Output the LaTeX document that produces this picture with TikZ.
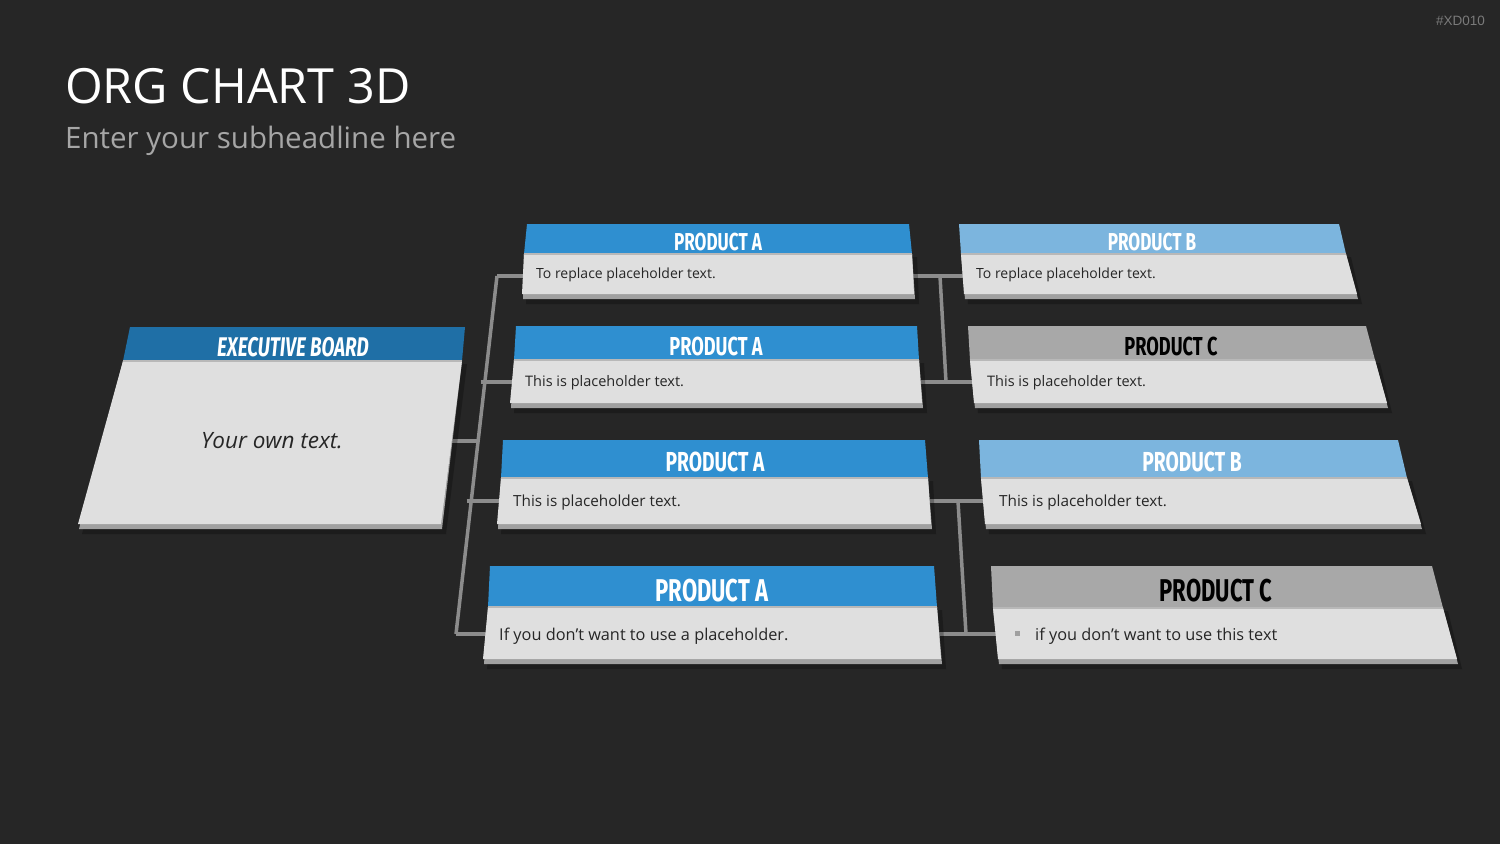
\documentclass[tikz,border=0pt]{standalone}
\usepackage{fontspec}
\setmainfont{Open Sans}
\newfontfamily\headfont[FakeStretch=0.7]{Fira Sans}
\newfontfamily\tagfont{Liberation Sans}
\usetikzlibrary{calc}
\definecolor{bgc}{HTML}{262626}
\definecolor{blueA}{HTML}{2F8FD0}
\definecolor{blueEx}{HTML}{1F6FA6}
\definecolor{blueB}{HTML}{7CB5DE}
\definecolor{greyC}{HTML}{A8A8A8}
\definecolor{bodyc}{HTML}{DFDFDF}
\definecolor{lipc}{HTML}{A0A0A0}
\definecolor{sepc}{HTML}{B8B8B8}
\definecolor{linkc}{HTML}{8C8C8C}
\definecolor{subc}{HTML}{A6A6A6}
\definecolor{tagc}{HTML}{7A7A7A}
\definecolor{txtc}{HTML}{262626}
\newcommand\apos{\char"0027\relax}
\newcommand\cardpts[7]{%
  \coordinate (#1a) at (#2); \coordinate (#1b) at (#3);
  \coordinate (#1c) at (#4); \coordinate (#1d) at (#5);
  \coordinate (#1e) at (#6); \coordinate (#1f) at (#7);}
\newcommand\cardshape[2]{%
  \fill[black,opacity=0.25] ($(#1d)+(4,3)$) -- ($(#1c)+(5,3)$) -- ($(#1e)+(5,10)$) -- ($(#1f)+(4,10)$) -- cycle;
  \fill[lipc] (#1d) -- (#1c) -- ($(#1e)+(1,5)$) -- ($(#1f)+(1,5)$) -- cycle;
  \fill[bodyc] (#1d) -- (#1c) -- (#1e) -- (#1f) -- cycle;
  \fill[#2] (#1a) -- (#1b) -- (#1c) -- (#1d) -- cycle;
  \draw[sepc,line width=1.2] (#1d) -- (#1c);}
\tikzset{
  link/.style={draw=linkc,line width=3.5},
  ttl/.style={anchor=base,inner sep=0pt},
  bodytxt/.style={anchor=base west,inner sep=0pt,text=txtc},
}
\begin{document}
\begin{tikzpicture}[x=1pt,y=-1pt]
\useasboundingbox (0,0) rectangle (1500,844);
\fill[bgc] (0,0) rectangle (1500,844);

\node[anchor=base west,inner sep=0pt,text=white,font=\fontsize{48.5}{56}\selectfont] (title) at (65,103) {ORG CHART 3D};
\node[anchor=base west,inner sep=0pt,text=subc,font=\fontsize{29.5}{36}\selectfont] (sub) at (65,148) {Enter your subheadline here};
\node[anchor=base east,inner sep=0pt,text=tagc,font=\tagfont\fontsize{13.5}{15}\selectfont] (tag) at (1485,25) {\#XD010};

% card geometry
\cardpts{EX}{130,327}{465,327}{462,361}{123,361}{441,524}{78,524}
\cardpts{A1}{527,224}{909,224}{912,254}{524,254}{914,294}{522,294}
\cardpts{A2}{516,326}{917,326}{919,360}{514,360}{922,403}{510,403}
\cardpts{A3}{503,440}{925,440}{928,478}{501,478}{931,524}{497,524}
\cardpts{A4}{490,566}{934,566}{937,607}{488,607}{941,659}{483,659}
\cardpts{B1}{959,224}{1339,224}{1346,254}{961,254}{1357,294}{964,294}
\cardpts{C2}{968,326}{1366,326}{1375,360}{970,360}{1387,403}{974,403}
\cardpts{B3}{979,440}{1398,440}{1407,478}{981,478}{1421,524}{985,524}
\cardpts{C4}{991,566}{1432,566}{1443,608}{993,608}{1457,659}{998,659}

% connector points
\coordinate (exo) at (446,441);
\coordinate (tr1) at (497,276);
\coordinate (tr2) at (484.5,382);
\coordinate (trE) at (478,441);
\coordinate (tr3) at (470.5,501);
\coordinate (tr4) at (456,634);
\coordinate (A1in) at (526,276);
\coordinate (A2in) at (514,382);
\coordinate (A3in) at (501,501);
\coordinate (A4in) at (487,634);
\coordinate (A1out) at (910,276);
\coordinate (A2out) at (918,382);
\coordinate (A3out) at (927,501);
\coordinate (A4out) at (937,634);
\coordinate (B1in) at (966,276);
\coordinate (C2in) at (976,382);
\coordinate (B3in) at (987,501);
\coordinate (C4in) at (1000,634);
\coordinate (ru1) at (940,276);
\coordinate (ru2) at (946,382);
\coordinate (rl1) at (958,501);
\coordinate (rl2) at (966,634);

% connectors
\draw[link] (exo) -- (trE);
\draw[link] (tr1) -- (tr4);
\draw[link] (tr1) -- (A1in);
\draw[link] ($(tr2)+(-4,0)$) -- (A2in);
\draw[link] ($(tr3)+(-4,0)$) -- (A3in);
\draw[link] (tr4) -- (A4in);
\draw[link] (A1out) -- (B1in);
\draw[link] (A2out) -- (C2in);
\draw[link] (ru1) -- (ru2);
\draw[link] (A3out) -- (B3in);
\draw[link] (A4out) -- (C4in);
\draw[link] (rl1) -- (rl2);

% cards
\cardshape{EX}{blueEx}
\cardshape{A1}{blueA}
\cardshape{A2}{blueA}
\cardshape{A3}{blueA}
\cardshape{A4}{blueA}
\cardshape{B1}{blueB}
\cardshape{C2}{greyC}
\cardshape{B3}{blueB}
\cardshape{C4}{greyC}

% titles
\node[ttl,text=white,font=\headfont\bfseries\itshape\fontsize{27}{30}\selectfont] (EXt) at (293,356) {EXECUTIVE BOARD};
\node[ttl,text=white,font=\headfont\bfseries\fontsize{24.5}{28}\selectfont] (A1t) at (718,250) {PRODUCT A};
\node[ttl,text=white,font=\headfont\bfseries\fontsize{26}{30}\selectfont] (A2t) at (716,355) {PRODUCT A};
\node[ttl,text=white,font=\headfont\bfseries\fontsize{27.5}{31}\selectfont] (A3t) at (715,471) {PRODUCT A};
\node[ttl,text=white,font=\headfont\bfseries\fontsize{31.5}{35}\selectfont] (A4t) at (712,601) {PRODUCT A};
\node[ttl,text=white,font=\headfont\bfseries\fontsize{24.5}{28}\selectfont] (B1t) at (1152,250) {PRODUCT B};
\node[ttl,text=black,font=\headfont\bfseries\fontsize{26}{30}\selectfont] (C2t) at (1171,355) {PRODUCT C};
\node[ttl,text=white,font=\headfont\bfseries\fontsize{27.5}{31}\selectfont] (B3t) at (1192,471) {PRODUCT B};
\node[ttl,text=black,font=\headfont\bfseries\fontsize{31.5}{35}\selectfont] (C4t) at (1216,601) {PRODUCT C};

% body texts
\node[anchor=base,inner sep=0pt,text=txtc,font=\itshape\fontsize{22.5}{26}\selectfont] (EXb) at (272,448) {Your own text.};
\node[bodytxt,font=\fontsize{14}{16}\selectfont] (A1b) at (536,278) {To replace placeholder text.};
\node[bodytxt,font=\fontsize{14.5}{17}\selectfont] (A2b) at (525,386) {This is placeholder text.};
\node[bodytxt,font=\fontsize{15.3}{18}\selectfont] (A3b) at (513,506) {This is placeholder text.};
\node[bodytxt,font=\fontsize{16.3}{19}\selectfont] (A4b) at (499,640) {If you don\apos t want to use a placeholder.};
\node[bodytxt,font=\fontsize{14}{16}\selectfont] (B1b) at (976,278) {To replace placeholder text.};
\node[bodytxt,font=\fontsize{14.5}{17}\selectfont] (C2b) at (987,386) {This is placeholder text.};
\node[bodytxt,font=\fontsize{15.3}{18}\selectfont] (B3b) at (999,506) {This is placeholder text.};
\node[fill=lipc,minimum size=5pt,inner sep=0pt] (C4bullet) at (1017,633) {};
\node[bodytxt,font=\fontsize{16.3}{19}\selectfont] (C4b) at (1035,640) {if you don\apos t want to use this text};
\end{tikzpicture}
\end{document}
